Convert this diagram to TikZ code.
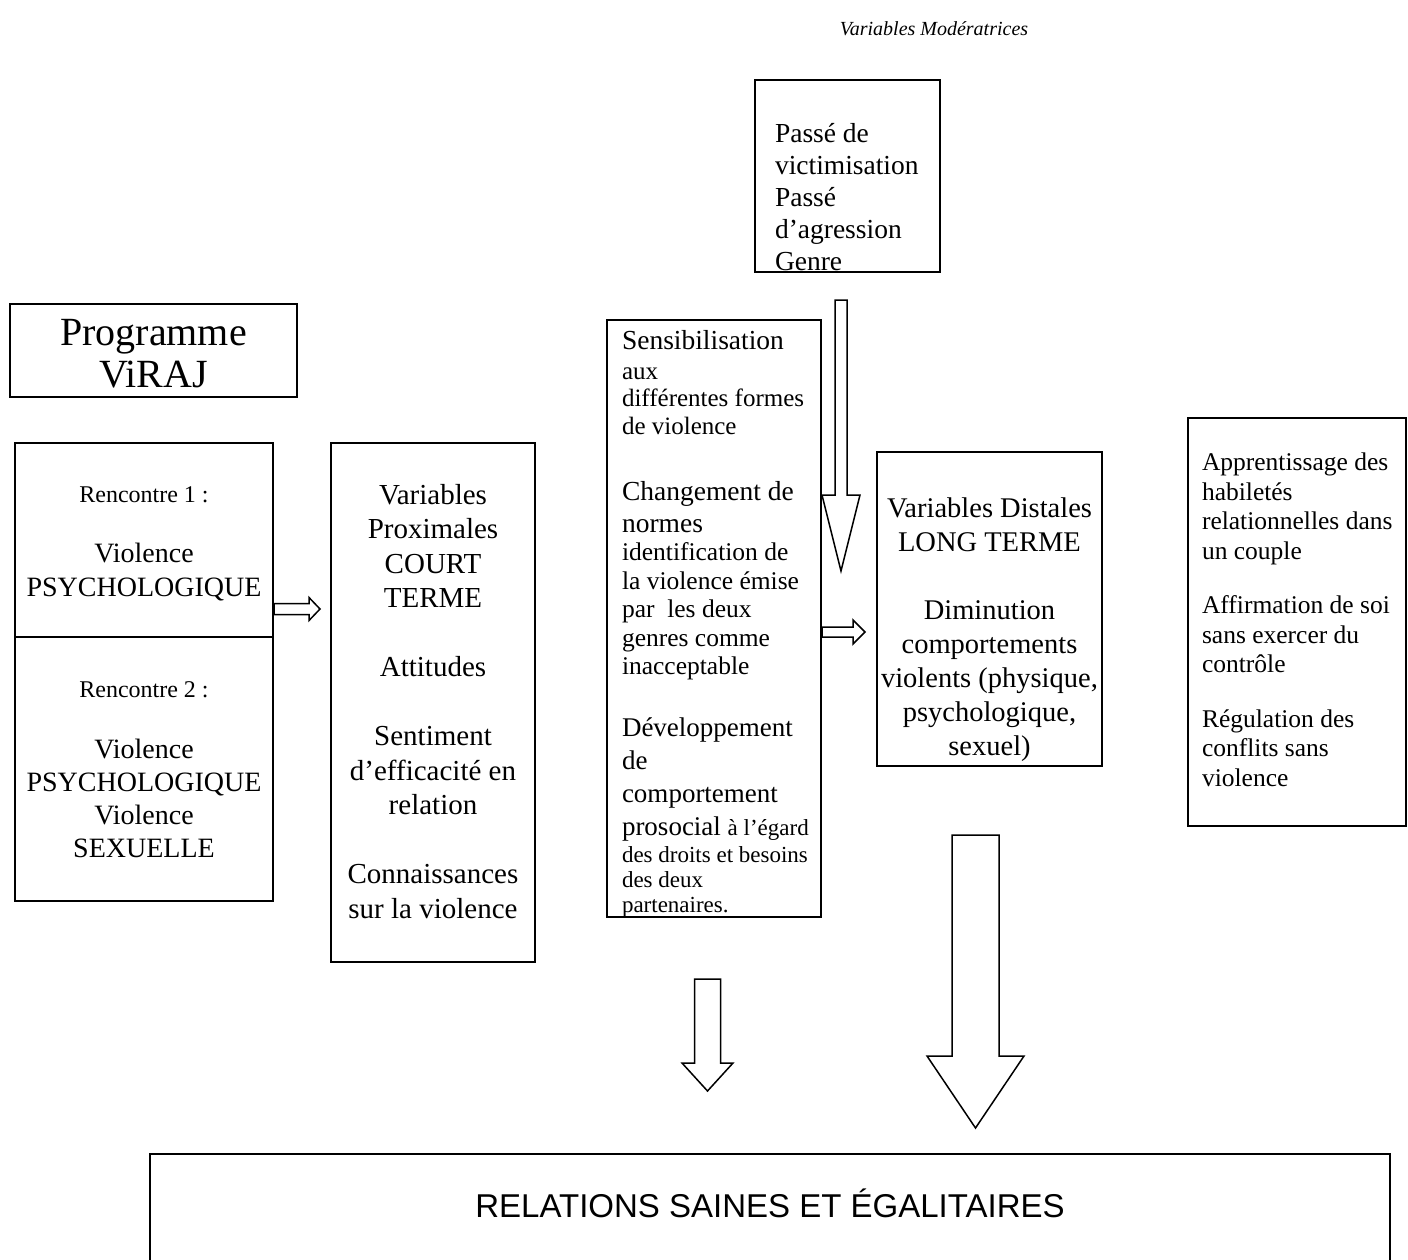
\documentclass[tikz,border=0pt]{standalone}
\usepackage{fontspec}
\setmainfont{Liberation Serif}
\newfontfamily\sansfam{Liberation Sans}
\usetikzlibrary{calc}
\newcommand{\fz}[2]{\fontsize{#1}{#2}\selectfont}
% #1 start, #2 tip, #3 shaft half width, #4 head half width, #5 head length
\newcommand{\rightblock}[5]{%
  \draw[blk] ($(#1)+(0,-#3)$) -- ($(#2)+(-#5,-#3)$) -- ($(#2)+(-#5,-#4)$) -- (#2)
    -- ($(#2)+(-#5,#4)$) -- ($(#2)+(-#5,#3)$) -- ($(#1)+(0,#3)$) -- cycle;}
\newcommand{\downblock}[5]{%
  \draw[blk] ($(#1)+(-#3,0)$) -- ($(#2)+(-#3,-#5)$) -- ($(#2)+(-#4,-#5)$) -- (#2)
    -- ($(#2)+(#4,-#5)$) -- ($(#2)+(#3,-#5)$) -- ($(#1)+(#3,0)$) -- cycle;}
\begin{document}
\begin{tikzpicture}[x=1pt,y=-1pt,
  box/.style={draw,line width=2pt,inner sep=0pt},
  txt/.style={inner sep=0pt,outer sep=0pt},
  blk/.style={draw,line width=1.5pt,line join=miter,fill=white}]
\useasboundingbox (0,0) rectangle (1408,1260);

% boxes
\node[box,minimum width=185pt,minimum height=192pt] (mod) at (847.5,176) {};
\node[box,minimum width=287pt,minimum height=93pt] (prog) at (153.5,350.5) {};
\node[box,minimum width=258pt,minimum height=194pt] (ren1) at (144,540) {};
\node[box,minimum width=258pt,minimum height=264pt] (ren2) at (144,769) {};
\node[box,minimum width=204pt,minimum height=519pt] (prox) at (433,702.5) {};
\node[box,minimum width=214pt,minimum height=597pt] (sens) at (714,618.5) {};
\node[box,minimum width=225pt,minimum height=314pt] (dist) at (989.5,609) {};
\node[box,minimum width=218pt,minimum height=408pt] (appr) at (1297,622) {};
\node[box,minimum width=1240pt,minimum height=109pt] (res) at (770,1208.5) {};

% texts
\node[txt,anchor=base,font=\fz{20}{24}\itshape] (title) at (934,36) {Variables Modératrices};
\node[txt,anchor=north west,align=left,font=\fz{27.5}{32}] (modt) at (775,119.6)
  {\strut Passé de\\victimisation\\Passé\\d’agression\\Genre};
\node[txt,anchor=north,align=center,font=\fz{40}{42}] (progt) at (153.5,315.6)
  {\strut Programme\\ViRAJ};
\node[txt,anchor=base,font=\fz{24}{28}] (r1a) at (144,502) {Rencontre 1 :};
\node[txt,anchor=north,align=center,font=\fz{28}{34}] (r1b) at (144,538.2)
  {\strut Violence\\PSYCHOLOGIQUE};
\node[txt,anchor=base,font=\fz{24}{28}] (r2a) at (144,697) {Rencontre 2 :};
\node[txt,anchor=north,align=center,font=\fz{28}{33}] (r2b) at (144,734.9)
  {\strut Violence\\PSYCHOLOGIQUE\\Violence\\SEXUELLE};
\node[txt,anchor=north,align=center,font=\fz{29}{34.5}] (proxt) at (433,479.9)
  {\strut Variables\\Proximales\\COURT\\TERME\\[34.5pt]Attitudes\\[34.5pt]Sentiment\\d’efficacité en\\relation\\[34.5pt]Connaissances\\sur la violence};
\node[txt,anchor=north west,align=left,font=\fz{27.5}{31.6}] (sA) at (622,326.9)
  {\strut Sensibilisation};
\node[txt,anchor=north west,align=left,font=\fz{25}{27.5}] (sB) at (622,359.75)
  {\strut aux\\différentes formes\\de violence};
\node[txt,anchor=north west,align=left,font=\fz{27.5}{32}] (sC) at (622,477.6)
  {\strut Changement de\\normes};
\node[txt,anchor=north west,align=left,font=\fz{25.5}{28.5}] (sD) at (622,541)
  {\strut identification de\\la violence émise\\par\ \ les deux\\genres comme\\inacceptable};
\node[txt,anchor=north west,align=left,font=\fz{27}{33}] (sE) at (622,712.9)
  {\strut Développement\\de\\comportement\\prosocial {\fz{23}{33}à l’égard}};
\node[txt,anchor=north west,align=left,font=\fz{23}{25}] (sF) at (622,844.5)
  {\strut des droits et besoins\\des deux\\partenaires.};
\node[txt,anchor=north,align=center,font=\fz{28.5}{34}] (distt) at (989.5,493.2)
  {\strut Variables Distales\\LONG TERME\\[34pt]Diminution\\comportements\\violents (physique,\\psychologique,\\sexuel)};
\node[txt,anchor=north west,align=left,font=\fz{25.5}{29.5}] (apprt) at (1202,450)
  {\strut Apprentissage des\\habiletés\\relationnelles dans\\un couple\\[25pt]Affirmation de soi\\sans exercer du\\contrôle\\[25pt]Régulation des\\conflits sans\\violence};
\node[txt,anchor=base,font=\sansfam\fz{33}{38}] (rest) at (770,1217)
  {RELATIONS SAINES ET ÉGALITAIRES};

% block arrows
\coordinate (a1s) at (ren1.east |- 0,609);
\coordinate (a1e) at ($(prox.west |- 0,609)+(-10,0)$);
\rightblock{a1s}{a1e}{5.5}{11.5}{11}
\coordinate (a2s) at (sens.east |- 0,632);
\coordinate (a2e) at ($(dist.west |- 0,632)+(-11,0)$);
\rightblock{a2s}{a2e}{5}{12}{12}
\coordinate (a3s) at ($(mod.south)+(-6.5,27)$);
\coordinate (a3e) at (a3s |- 0,571);
\downblock{a3s}{a3e}{6}{19}{76}
\coordinate (a4s) at ($(sens.south)+(-6.5,61)$);
\coordinate (a4e) at (a4s |- 0,1091);
\downblock{a4s}{a4e}{13}{25.5}{28}
\coordinate (a5s) at ($(dist.south)+(-14,68)$);
\coordinate (a5e) at (a5s |- 0,1128);
\downblock{a5s}{a5e}{23.5}{48.5}{72}
\end{tikzpicture}
\end{document}
